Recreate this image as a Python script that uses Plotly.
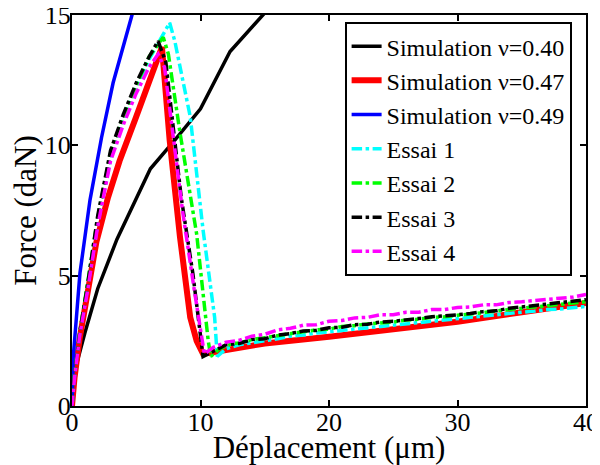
import plotly.graph_objects as go

# Simulation curves
sim40_x = [0, 0.3, 1, 2, 3.5, 5, 6.1, 8, 10, 12.3, 14.8, 16.5]
sim40_y = [0, 1.5, 2.8, 4.5, 6.4, 8.0, 9.1, 10.2, 11.4, 13.6, 15.0, 15.9]

sim47_x = [0, 0.2, 0.6, 1.2, 1.9, 2.8, 3.7, 5, 6, 7.0, 7.6, 8.4, 9.2, 9.7, 10.2, 12, 15, 20, 25, 30, 35, 40]
sim47_y = [0, 1.1, 2.6, 4.3, 6.3, 8.0, 9.4, 11.1, 12.5, 13.77, 10.2, 6.5, 3.4, 2.5, 2.0, 2.15, 2.4, 2.66, 2.95, 3.23, 3.6, 3.95]

sim49_x = [0, 0.1, 0.62, 1.4, 2.3, 3.2, 4.67, 5.3]
sim49_y = [0, 1.9, 5.1, 7.9, 10.3, 12.4, 15.0, 16.5]

# Experimental curves
e1_x = [0, 0.2, 0.6, 1.2, 2, 3, 4, 5, 6, 7, 7.6, 8.0, 9.2, 10.2, 11.1, 11.3, 12, 13, 14, 15, 16, 17, 18, 19, 20,
        21, 22, 23, 24, 25, 26, 27, 28, 29, 30, 31, 32, 33, 34, 35, 36, 37, 38, 39, 40]
e1_y = [0, 1.2, 2.8, 4.5, 7.0, 9.5, 11.0, 12.2, 13.3, 14.2, 14.7, 14.0, 11.1, 6.75, 3.4, 1.9, 2.2, 2.35, 2.42, 2.52, 2.58, 2.68, 2.72, 2.8, 2.85,
        2.9, 2.97, 3.0, 3.08, 3.1, 3.18, 3.22, 3.28, 3.3, 3.37, 3.4, 3.45, 3.5, 3.55, 3.6, 3.64, 3.7, 3.72, 3.78, 3.82]

e2_x = [0, 0.2, 0.6, 1.2, 2, 3, 4, 5, 6, 7.1, 7.5, 8.4, 9.7, 10.6, 10.8, 11.5, 12.5, 13, 14, 15, 16, 17, 18, 19, 20,
        21, 22, 23, 24, 25, 26, 27, 28, 29, 30, 31, 32, 33, 34, 35, 36, 37, 38, 39, 40]
e2_y = [0, 1.2, 2.8, 4.6, 7.2, 9.7, 11.1, 12.3, 13.4, 14.15, 13.5, 10.5, 6.6, 2.5, 1.9, 2.2, 2.4, 2.42, 2.55, 2.62, 2.7, 2.8, 2.85, 2.92, 2.95,
        3.05, 3.08, 3.15, 3.18, 3.22, 3.3, 3.33, 3.4, 3.42, 3.48, 3.52, 3.58, 3.65, 3.7, 3.76, 3.8, 3.88, 3.9, 3.97, 4.0]

e3_x = [0, 0.2, 0.6, 1.2, 2, 3, 4, 5, 6, 6.7, 7.3, 7.9, 8.5, 9.4, 10.2, 11, 12, 13, 14, 15, 16, 17, 18, 19, 20,
        21, 22, 23, 24, 25, 26, 27, 28, 29, 30, 31, 32, 33, 34, 35, 36, 37, 38, 39, 40]
e3_y = [0, 1.2, 2.8, 4.6, 7.3, 9.8, 11.2, 12.4, 13.4, 14.0, 13.2, 10.5, 8.0, 5.1, 1.9, 2.1, 2.35, 2.4, 2.55, 2.58, 2.72, 2.78, 2.88, 2.9, 3.0,
        3.02, 3.12, 3.14, 3.22, 3.25, 3.32, 3.36, 3.42, 3.45, 3.5, 3.55, 3.62, 3.65, 3.75, 3.8, 3.85, 3.9, 3.97, 4.0, 4.08]

e4_x = [0, 0.2, 0.6, 1.2, 2, 3, 4, 5, 6, 6.7, 7.2, 7.9, 8.6, 9.5, 10.3, 11, 12, 13, 14, 15, 16, 17, 18, 19, 20,
        21, 22, 23, 24, 25, 26, 27, 28, 29, 30, 31, 32, 33, 34, 35, 36, 37, 38, 39, 40]
e4_y = [0, 1.1, 2.7, 4.4, 6.9, 9.4, 10.8, 12.0, 13.0, 13.5, 13.0, 10.3, 7.5, 4.5, 2.0, 2.25, 2.45, 2.52, 2.68, 2.75, 2.92, 2.98, 3.1, 3.12, 3.25,
        3.28, 3.38, 3.4, 3.5, 3.5, 3.6, 3.6, 3.7, 3.7, 3.78, 3.8, 3.88, 3.88, 3.97, 4.0, 4.05, 4.1, 4.15, 4.18, 4.28]

x_ticks = [0, 10, 20, 30, 40]
y_ticks = [0, 5, 10, 15]

FONT = "Times New Roman"

fig = go.Figure()
fig.add_trace(go.Scatter(x=sim40_x, y=sim40_y, mode="lines", name="Simulation ν=0.40",
                         line=dict(color="#000000", width=3.5)))
fig.add_trace(go.Scatter(x=sim47_x, y=sim47_y, mode="lines", name="Simulation ν=0.47",
                         line=dict(color="#FF0000", width=6)))
fig.add_trace(go.Scatter(x=sim49_x, y=sim49_y, mode="lines", name="Simulation ν=0.49",
                         line=dict(color="#0000FF", width=3.5)))
for xs, ys, nm, col in [(e1_x, e1_y, "Essai 1", "#00FFFF"),
                        (e2_x, e2_y, "Essai 2", "#00FF00"),
                        (e3_x, e3_y, "Essai 3", "#000000"),
                        (e4_x, e4_y, "Essai 4", "#FF00FF")]:
    fig.add_trace(go.Scatter(x=xs, y=ys, mode="lines", name=nm,
                             line=dict(color=col, width=3.5, dash="dashdot")))

axis_common = dict(showline=True, linecolor="black", linewidth=2, mirror="ticks",
                   ticks="inside", ticklen=6, tickwidth=1.5, tickcolor="black",
                   showgrid=False, zeroline=False, automargin=False,
                   ticklabeloverflow="allow")

fig.update_layout(
    width=592, height=457,
    margin=dict(l=64, r=14, t=7, b=59),
    paper_bgcolor="white", plot_bgcolor="white",
    font=dict(family=FONT, size=26, color="black"),
    xaxis=dict(range=[0, 40], tickvals=x_ticks, ticklabelstandoff=-8,
               title=dict(text="Déplacement (μm)", standoff=2),
               **axis_common),
    yaxis=dict(range=[0, 15], tickvals=y_ticks, ticklabelstandoff=-6,
               title=dict(text="Force (daN)", standoff=10),
               **axis_common),
    legend=dict(x=0.972, y=0.982, xanchor="right", yanchor="top",
                bgcolor="white", bordercolor="black", borderwidth=2,
                font=dict(size=24),
                itemwidth=30, tracegroupgap=0),
    showlegend=True,
)

fig.write_html("out.html")
